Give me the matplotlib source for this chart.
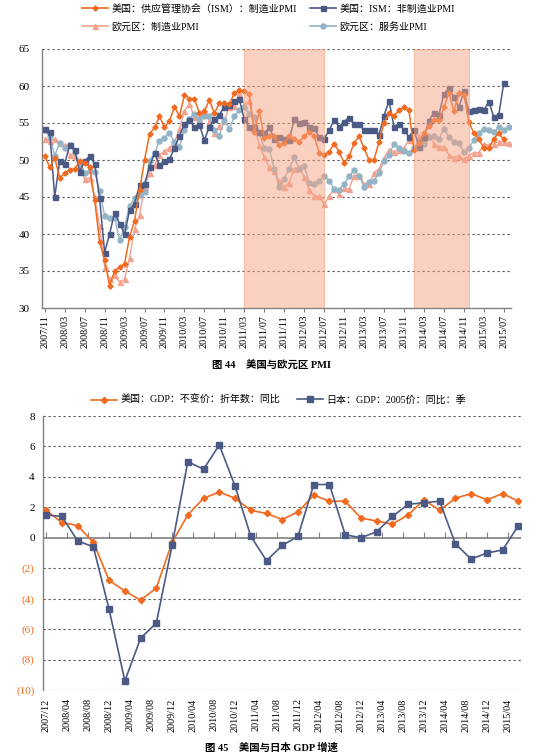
import matplotlib
matplotlib.use('Agg')
import matplotlib.pyplot as plt
from matplotlib.lines import Line2D
import pandas as pd

W, H = 552, 756
FONTS = ['Liberation Serif', 'Noto Sans CJK SC']
plt.rcParams['font.family'] = FONTS

ORANGE = '#f26a1f'
NAVY = '#4a5a84'
PINK = '#f4a290'
LIGHTBLUE = '#93b3c6'
GRID = '#555555'
SPINE = '#808080'

# ---- figure 44: PMI, monthly from 2007/11 ----
pmi_start = '2007-11'
ism_mfg = [50.6, 49.0, 50.3, 47.6, 48.2, 48.7, 48.8, 49.8, 49.6, 49.1, 44.6, 38.9,
           36.5, 33.0, 35.0, 35.5, 36.0, 39.6, 41.8, 45.9, 50.0, 53.5, 54.4, 55.9,
           54.4, 55.3, 57.2, 55.9, 58.8, 58.3, 58.3, 56.3, 56.6, 58.1, 56.3, 57.7,
           57.7, 57.6, 59.0, 59.4, 59.3, 58.9, 53.8, 56.6, 53.0, 53.2, 53.2, 52.0,
           52.3, 53.2, 52.8, 52.4, 53.2, 53.8, 53.2, 51.0, 50.7, 51.1, 52.2, 51.1,
           49.6, 50.5, 52.3, 53.2, 51.6, 50.0, 50.0, 52.5, 55.0, 56.3, 56.0, 56.7,
           57.1, 56.7, 51.4, 52.3, 53.6, 54.6, 55.4, 55.4, 57.1, 59.1, 56.6, 59.0,
           58.8, 55.2, 53.6, 52.9, 51.6, 51.6, 52.9, 53.6, 52.8]
ism_nonmfg = [54.2, 53.8, 45.0, 49.9, 49.5, 52.0, 51.4, 48.4, 49.9, 50.5, 49.5, 44.8,
              37.5, 40.0, 42.9, 41.4, 40.0, 43.2, 44.1, 46.6, 46.8, 49.1, 50.9, 49.3,
              49.9, 50.1, 51.6, 53.3, 54.9, 55.4, 54.5, 54.7, 52.7, 54.5, 55.5, 56.1,
              57.2, 57.5, 58.0, 58.2, 55.5, 54.4, 54.4, 53.8, 53.6, 54.4, 52.9, 53.1,
              52.8, 52.7, 55.5, 55.0, 55.2, 54.5, 54.3, 53.1, 52.9, 54.0, 55.4, 54.5,
              55.2, 55.7, 54.9, 54.8, 54.1, 54.0, 54.1, 53.4, 56.0, 58.0, 54.5, 54.9,
              54.1, 53.1, 54.1, 51.8, 53.1, 55.3, 56.4, 56.1, 58.9, 59.7, 58.5, 57.1,
              59.3, 56.6, 56.8, 56.9, 56.7, 57.9, 55.8, 56.1, 60.4]
euro_mfg = [52.8, 52.6, 52.8, 52.3, 52.0, 50.7, 50.6, 49.2, 47.4, 47.6, 45.0, 41.1,
            35.6, 33.9, 34.4, 33.5, 33.9, 36.8, 40.7, 42.6, 46.3, 48.2, 49.3, 50.7,
            51.2, 51.6, 52.4, 54.2, 56.6, 57.6, 55.8, 55.6, 56.7, 55.1, 53.7, 54.6,
            55.3, 57.1, 57.3, 59.0, 57.5, 58.0, 54.6, 52.0, 50.4, 49.0, 48.5, 47.1,
            46.4, 46.9, 48.8, 49.0, 47.7, 45.9, 45.1, 45.1, 44.0, 45.1, 46.1, 45.4,
            46.2, 46.1, 47.9, 47.9, 46.8, 46.7, 48.3, 48.8, 50.3, 51.4, 51.1, 51.3,
            51.6, 52.7, 54.0, 53.2, 53.0, 53.4, 52.2, 51.8, 51.8, 50.7, 50.3, 50.6,
            50.1, 50.6, 51.0, 51.0, 52.2, 52.0, 52.2, 52.5, 52.4, 52.3]
euro_services = [54.1, 53.1, 50.6, 52.3, 51.6, 52.0, 51.1, 49.4, 48.3, 48.5, 48.4, 45.8,
                 42.5, 42.1, 42.2, 39.2, 40.9, 43.8, 44.8, 45.3, 45.7, 49.9, 50.9, 52.6,
                 53.0, 53.6, 52.5, 51.8, 54.1, 55.6, 56.2, 55.5, 56.0, 55.9, 54.1, 53.3,
                 55.4, 54.2, 55.9, 56.8, 57.2, 56.2, 55.8, 53.7, 51.6, 51.5, 48.8, 46.4,
                 47.5, 48.8, 50.4, 48.8, 49.2, 46.9, 46.7, 47.1, 47.9, 47.2, 46.1, 46.0,
                 46.7, 47.8, 48.6, 47.9, 46.4, 47.0, 47.2, 48.3, 49.8, 50.7, 52.2, 51.6,
                 51.2, 51.0, 51.6, 52.6, 52.2, 53.1, 53.2, 52.8, 54.2, 53.1, 52.4, 52.3,
                 51.1, 51.6, 52.7, 53.7, 54.2, 54.1, 53.8, 54.4, 54.0, 54.4]
shade_periods = [('2011/03', '2012/07'), ('2014/01', '2014/12')]

pmi_labels = {
    'ism_mfg': '美国：供应管理协会（ISM）：制造业PMI',
    'ism_nonmfg': '美国：ISM：非制造业PMI',
    'euro_mfg': '欧元区：制造业PMI',
    'euro_services': '欧元区：服务业PMI',
}

# ---- figure 45: GDP, quarterly from 2007/12 ----
gdp_start = '2007-12'
us_gdp = [1.8, 1.0, 0.8, -0.3, -2.8, -3.5, -4.1, -3.3, -0.3, 1.5, 2.6, 3.0, 2.6, 1.8,
          1.6, 1.2, 1.7, 2.8, 2.4, 2.4, 1.3, 1.1, 0.9, 1.5, 2.5, 1.8, 2.6, 2.9, 2.5,
          2.9, 2.4]
japan_gdp = [1.5, 1.4, -0.2, -0.6, -4.7, -9.4, -6.6, -5.6, -0.5, 5.0, 4.5, 6.1, 3.4,
             0.1, -1.5, -0.5, 0.1, 3.5, 3.5, 0.2, 0.0, 0.4, 1.4, 2.2, 2.3, 2.4, -0.4,
             -1.4, -1.0, -0.8, 0.8]
gdp_labels = ['美国：GDP：不变价：折年数：同比', '日本：GDP：2005价：同比：季']


fig = plt.figure(figsize=(W / 100, H / 100), dpi=100)


def px_axes(left, top, right, bottom):
    return fig.add_axes([left / W, 1 - bottom / H, (right - left) / W, (bottom - top) / H])


def legend_entry(x, y, color, marker, ms, text):
    h = Line2D([0, 1], [0, 0], color=color, marker=marker, markersize=ms, lw=1.2)
    fig.legend(handles=[h], labels=[text], loc='center left',
               bbox_to_anchor=(x / W, 1 - y / H), frameon=False, borderpad=0,
               borderaxespad=0, handlelength=2.6, handletextpad=0.35,
               prop={'family': FONTS, 'size': 7.2})


def style_axes(ax):
    for s in ['top', 'right']:
        ax.spines[s].set_visible(False)
    for s in ['left', 'bottom']:
        ax.spines[s].set_color(SPINE)
        ax.spines[s].set_linewidth(1.0)


# ---------------- top chart ----------------
months = pd.period_range(pmi_start, periods=len(euro_mfg), freq='M').strftime('%Y/%m').tolist()
ax1 = px_axes(42, 49, 511, 308)
style_axes(ax1)
ax1.plot(range(len(euro_mfg)), euro_mfg, color=PINK, marker='^', ms=3.6, lw=1.0, zorder=3)
ax1.plot(range(len(euro_services)), euro_services, color=LIGHTBLUE, marker='o', ms=3.6,
         lw=1.0, zorder=3)
ax1.plot(range(len(ism_nonmfg)), ism_nonmfg, color=NAVY, marker='s', ms=3.6, lw=1.1, zorder=4)
ax1.plot(range(len(ism_mfg)), ism_mfg, color=ORANGE, marker='D', ms=2.6, lw=1.1, zorder=4)

for start, end in shade_periods:
    ax1.axvspan(months.index(start), months.index(end), facecolor='#f6a282', alpha=0.5,
                edgecolor='#f39a6c', lw=0.8, zorder=6)

ax1.set_xlim(-0.55, len(euro_mfg) - 0.55)
ax1.set_ylim(30, 65)
ax1.set_yticks(range(30, 66, 5))
ax1.grid(axis='y', color=GRID, ls=(0, (2, 2.5)), lw=0.8)
ax1.set_axisbelow(True)
ax1.tick_params(axis='y', length=0, pad=9, labelsize=8)
ax1.set_xticks(range(0, len(months), 4))
ax1.set_xticklabels(months[::4], rotation=90, fontsize=7.3)
ax1.tick_params(axis='x', length=3, width=0.8, color=SPINE, pad=2)

legend_entry(82, 8.5, ORANGE, 'D', 2.6, pmi_labels['ism_mfg'])
legend_entry(310, 8.5, NAVY, 's', 3.6, pmi_labels['ism_nonmfg'])
legend_entry(82, 26.5, PINK, '^', 3.6, pmi_labels['euro_mfg'])
legend_entry(310, 26.5, LIGHTBLUE, 'o', 3.6, pmi_labels['euro_services'])

fig.text(272 / W, 1 - 365 / H, '图 44    美国与欧元区 PMI', ha='center', va='center',
         fontsize=7.5, fontweight='bold')

# ---------------- bottom chart ----------------
gdp_months = pd.period_range(gdp_start, periods=3 * (len(us_gdp) - 1) + 1,
                             freq='M').strftime('%Y/%m').tolist()
q_pos = [3 * k for k in range(len(us_gdp))]
ax2 = px_axes(43, 416, 521, 690)
style_axes(ax2)
ax2.spines['bottom'].set_visible(False)
ax2.plot(q_pos, us_gdp, color=ORANGE, marker='D', ms=3.2, lw=1.2, zorder=4)
ax2.plot(q_pos, japan_gdp, color=NAVY, marker='s', ms=4.0, lw=1.2, zorder=4)

ax2.set_xlim(-0.6, q_pos[-1] + 0.5)
ax2.set_ylim(-10, 8)
yt = list(range(-10, 9, 2))
ax2.set_yticks(yt)
ax2.set_yticklabels([str(v) if v >= 0 else '(%d)' % -v for v in yt])
for lab, v in zip(ax2.get_yticklabels(), yt):
    lab.set_color(ORANGE if v < 0 else 'black')
for v in yt:
    if v != 0:
        ax2.axhline(v, color=GRID, ls=(0, (2, 2.5)), lw=0.8, zorder=1)
ax2.axhline(0, color=SPINE, lw=1.2, zorder=2)
tick_pos = list(range(0, len(gdp_months), 4))
ax2.plot(tick_pos, [0] * len(tick_pos), ls='none', marker=2, ms=4, mew=0.8,
         color=SPINE, zorder=2)
ax2.tick_params(axis='y', length=0, pad=6, labelsize=8)
ax2.set_xticks(tick_pos)
ax2.set_xticklabels(gdp_months[::4], rotation=90, fontsize=7.3)
ax2.tick_params(axis='x', length=0, pad=6)

legend_entry(91, 400, ORANGE, 'D', 3.2, gdp_labels[0])
legend_entry(297, 400, NAVY, 's', 4.0, gdp_labels[1])

fig.text(271 / W, 1 - 748 / H, '图 45    美国与日本 GDP 增速', ha='center', va='center',
         fontsize=7.5, fontweight='bold')

fig.savefig('out.png', dpi=100, facecolor='white')
